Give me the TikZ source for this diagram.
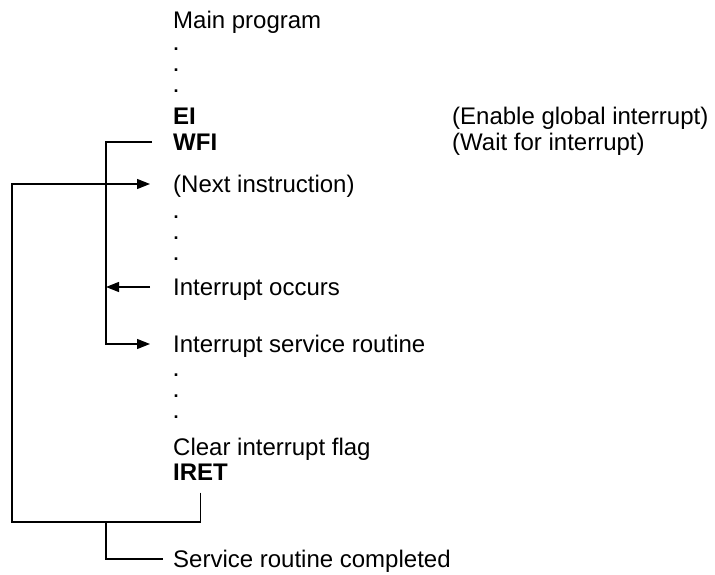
\documentclass[tikz,border=0pt]{standalone}
\usepackage{fontspec}
\setmainfont{Liberation Sans}
\usetikzlibrary{arrows.meta}

\begin{document}
\begin{tikzpicture}[x=1pt,y=-1pt,>={Triangle[length=13pt,width=10pt]},
  txt/.style={anchor=west,inner sep=0pt,text height=17pt,text depth=0pt,font=\fontsize{24}{27}\selectfont},
  cmd/.style={txt,font=\fontsize{24}{27}\selectfont\bfseries},
  dots/.style={anchor=south west,inner sep=0pt,align=left,font=\fontsize{18}{21}\selectfont\bfseries},
  wire/.style={line width=1.3pt}]
\useasboundingbox (0,0) rectangle (715,575);
\node[txt] (main) at (173,20) {Main program};
\node[dots] (dotsA) at (173.5,93) {.\\.\\.};
\node[cmd] (ei) at (173,116) {EI};
\node[cmd] (wfi) at (173,142) {WFI};
\node[txt] (eicom) at (452,116) {(Enable global interrupt)};
\node[txt] (wficom) at (452,142) {(Wait for interrupt)};
\node[txt] (next) at (173,184) {(Next instruction)};
\node[dots] (dotsB) at (173.5,261) {.\\.\\.};
\node[txt] (irq) at (173,287) {Interrupt occurs};
\node[txt] (isr) at (173,344) {Interrupt service routine};
\node[dots] (dotsC) at (173.5,419) {.\\.\\.};
\node[txt] (clr) at (173,447) {Clear interrupt flag};
\node[cmd] (iret) at (173,472) {IRET};
\node[txt] (done) at (173,559) {Service routine completed};
\coordinate (busA) at (106,522);
\coordinate (busB) at (12,522);
\draw[wire,->] ([xshift=-21pt]wfi.west) -| (busA |- isr) -- ([xshift=-23pt]isr.west);
\draw[wire,->] ([xshift=-23pt]irq.west) -- (busA |- irq);
\draw[wire,->] ([yshift=-12pt]iret.south) |- (busB) |- ([xshift=-23pt]next.west);
\draw[wire] (busA) |- ([xshift=-10pt]done.west);
\end{tikzpicture}
\end{document}
